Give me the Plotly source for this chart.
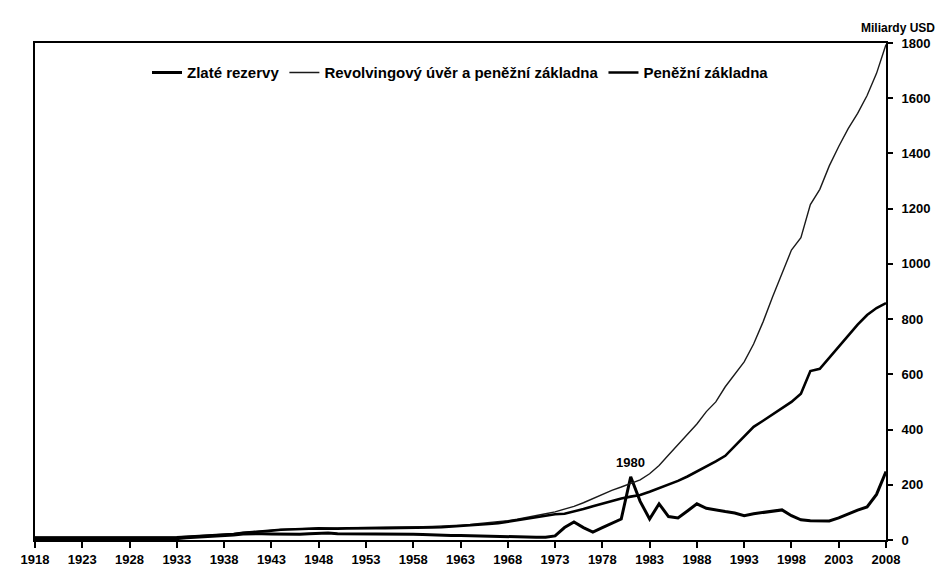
import plotly.graph_objects as go

years = list(range(1918, 2009))

gold = [4, 4, 4, 4, 4, 4, 4, 5, 5, 5, 5, 5, 5, 5, 5, 5,      # 1918-1933
        8, 10, 11, 13, 15, 18, 22, 23, 23, 22, 21, 20,       # 1934-1945
        21, 23, 24, 25, 23, 23, 23, 22, 22, 22, 22, 23, 21, 20,  # 1946-1959
        18, 17, 16, 16, 15, 14, 13, 12, 11, 12, 11, 10, 10,  # 1960-1972
        15, 45, 65, 45, 29, 45, 60, 76, 229, 140, 76, 131,   # 1973-1984
        85, 80, 105, 131, 115, 108, 103, 98, 88, 95, 100,    # 1985-1995
        104, 109, 88, 73, 70, 70, 69, 80, 95, 108, 120, 165, 248]  # 1996-2008

base = [9, 9, 9, 8, 8, 9, 9, 9, 9, 9, 9, 9, 9, 9, 10, 10,    # 1918-1933
        12, 14, 16, 17, 19, 22, 26, 28, 31, 34, 37, 39,      # 1934-1945
        40, 41, 42, 41, 41, 42, 43, 43, 43, 43, 43, 44, 44, 44,  # 1946-1959
        45, 46, 48, 50, 52, 55, 58, 61, 66, 71, 76, 82, 88,  # 1960-1972
        93, 95, 103, 112, 122, 132, 142, 150, 157, 163, 175, 188,  # 1973-1984
        202, 214, 230, 248, 265, 285, 305, 340, 375, 410, 432,     # 1985-1995
        455, 475, 500, 530, 612, 620, 660, 700, 740, 780, 815, 840, 858]  # 1996-2008

credit_base = [10, 10, 10, 9, 9, 10, 10, 10, 10, 10, 10, 10, 10, 10, 11, 11,  # 1918-1933
               13, 15, 17, 18, 20, 23, 27, 29, 32, 35, 38, 40,      # 1934-1945
               41, 42, 43, 43, 43, 44, 45, 45, 45, 46, 46, 47, 47, 48,  # 1946-1959
               49, 50, 52, 54, 56, 59, 62, 65, 70, 75, 81, 88, 95,  # 1960-1972
               102, 112, 122, 135, 150, 165, 180, 192, 205, 218, 240, 270,  # 1973-1984
               308, 345, 382, 420, 465, 500, 555, 600, 645, 710, 790,      # 1985-1995
               880, 965, 1050, 1095, 1215, 1270, 1355, 1425, 1490, 1545, 1610, 1690, 1795]  # 1996-2008

x_ticks = list(range(1918, 2009, 5))
y_ticks = list(range(0, 1801, 200))

FONT = "Liberation Sans, Arial, sans-serif"

fig = go.Figure()
fig.add_trace(go.Scatter(x=years, y=gold, mode="lines", name="Zlaté rezervy",
                         line=dict(color="#000000", width=3)))
fig.add_trace(go.Scatter(x=years, y=credit_base, mode="lines",
                         name="Revolvingový úvěr a peněžní základna",
                         line=dict(color="#1a1a1a", width=1.4)))
fig.add_trace(go.Scatter(x=years, y=base, mode="lines", name="Peněžní základna",
                         line=dict(color="#000000", width=2.6)))

# label the 1980s gold peak
early = [g if y < 1990 else 0 for y, g in zip(years, gold)]
peak_i = early.index(max(early))
fig.add_annotation(x=years[peak_i], y=gold[peak_i], text="1980", showarrow=False,
                   yanchor="bottom", yshift=5,
                   font=dict(family=FONT, size=13, color="#000", weight="bold"))

fig.add_annotation(xref="paper", yref="paper", x=1.0, y=1.0, xanchor="right",
                   yanchor="bottom", xshift=51, yshift=6, text="Miliardy USD", showarrow=False,
                   font=dict(family=FONT, size=12, color="#000", weight="bold"))

fig.update_layout(
    width=930, height=562,
    margin=dict(l=27, r=52, t=35, b=30, autoexpand=False),
    paper_bgcolor="white", plot_bgcolor="white",
    font=dict(family=FONT, color="#000"),
    showlegend=True,
    legend=dict(orientation="h", x=0.5, xanchor="center", y=0.94, yanchor="middle",
                bgcolor="rgba(0,0,0,0)",
                font=dict(family=FONT, size=15, color="#000", weight="bold")),
    xaxis=dict(range=[1918, 2008], tickvals=x_ticks, ticktext=[str(t) for t in x_ticks],
               automargin=False,
               showgrid=False, zeroline=False, showline=True, linecolor="#000",
               linewidth=2, mirror=True, ticks="outside", ticklen=6, tickwidth=2,
               tickcolor="#000",
               tickfont=dict(family=FONT, size=13, color="#000", weight="bold")),
    yaxis=dict(range=[0, 1800], side="right", tickvals=y_ticks, automargin=False,
               showgrid=False, zeroline=False, showline=True, linecolor="#000",
               linewidth=2, mirror=True, ticks="outside", ticklen=5, tickwidth=2,
               tickcolor="#000", ticklabelstandoff=6,
               tickfont=dict(family=FONT, size=13, color="#000", weight="bold")),
)

fig.write_html("out.html")
